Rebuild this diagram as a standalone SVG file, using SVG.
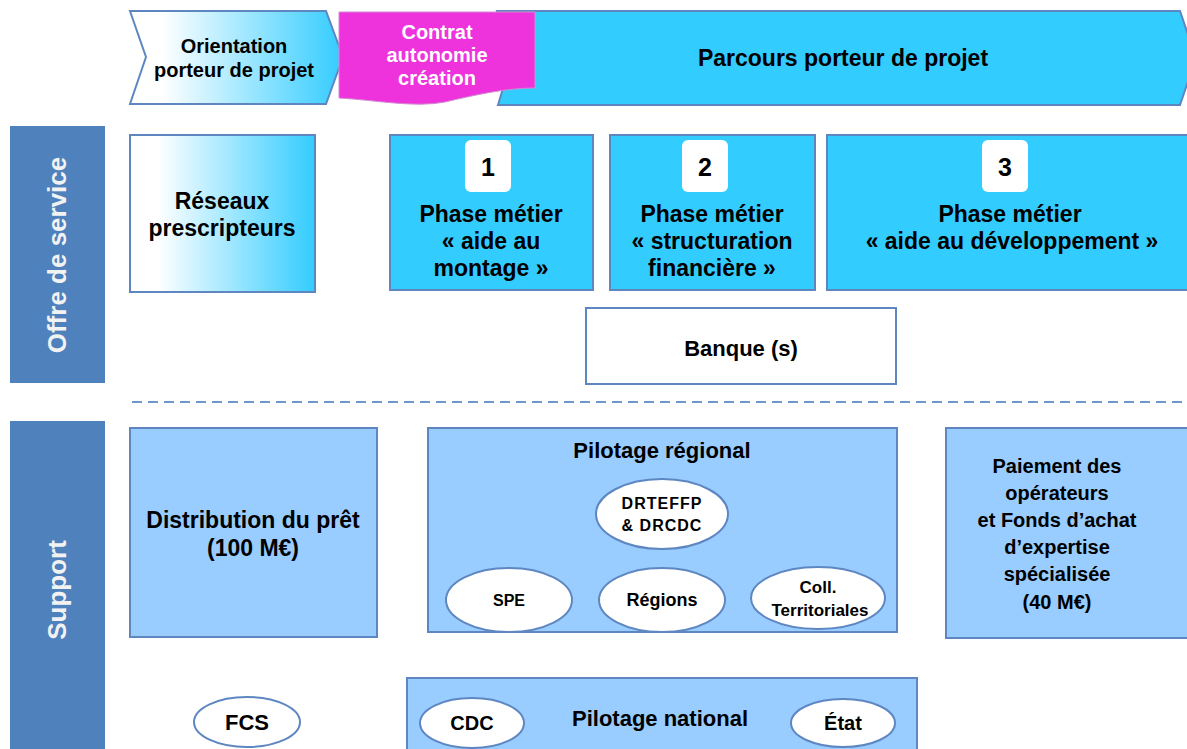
<svg xmlns="http://www.w3.org/2000/svg" width="1187" height="749" viewBox="0 0 1187 749">
<defs>
<linearGradient id="wb" x1="0" y1="0" x2="1" y2="0">
<stop offset="0" stop-color="#FFFFFF"/>
<stop offset="0.15" stop-color="#FFFFFF"/>
<stop offset="1" stop-color="#33CCFF"/>
</linearGradient>
<style>
text{font-family:"Liberation Sans",Arial,sans-serif;font-weight:bold;text-anchor:middle;fill:#000}
.side{fill:#4F81BD}
.sidet{fill:#F2F2F2;font-size:26px}
.box{stroke:#5E87C2;stroke-width:2}
.cyan{fill:#33CCFF}
.lb{fill:#99CCFF}
.wh{fill:#FFFFFF}
.ell{fill:#FFFFFF;stroke:#5E87C2;stroke-width:2}
.num{font-size:25px}
.f20{font-size:20px}.f23{font-size:23px}.f22{font-size:22px}.f18{font-size:18px}.f17{font-size:17px}.f16{font-size:16px}
</style>
</defs>
<rect width="1187" height="749" fill="#FFFFFF"/>

<g id="orientation">
<polygon class="box" fill="url(#wb)" points="130,11 326,11 343,57 326,104 130,104 146,57"/>
<text class="f20" x="234" y="53">Orientation</text>
<text class="f20" x="234" y="77">porteur de projet</text>
</g>
<g id="parcours">
<polygon class="box cyan" points="497,11 1180,11 1196,58 1180,105 498,105 512,58"/>
<text class="f23" x="843" y="66">Parcours porteur de projet</text>
</g>
<g id="contrat">
<path d="M339,12 H535 V88 C505,88 475,95 445,102 C415,108 375,100 339,98 Z" fill="#EE33DD" stroke="#D28BD0" stroke-width="1"/>
<text class="f20" x="437" y="39" style="fill:#FFFFFF">Contrat</text>
<text class="f20" x="437" y="62" style="fill:#FFFFFF">autonomie</text>
<text class="f20" x="437" y="85" style="fill:#FFFFFF">création</text>
</g>

<g id="offre-de-service">
<rect class="side" x="10" y="126" width="95" height="257"/>
<text class="sidet" transform="translate(66,255) rotate(-90)">Offre de service</text>
</g>
<g id="support">
<rect class="side" x="10" y="421" width="95" height="330"/>
<text class="sidet" transform="translate(66,590) rotate(-90)">Support</text>
</g>

<g id="reseaux">
<rect class="box" fill="url(#wb)" x="130" y="135" width="185" height="157"/>
<text class="f23" x="222" y="209">Réseaux</text>
<text class="f23" x="222" y="236">prescripteurs</text>
</g>

<g id="phase1">
<rect class="box cyan" x="390" y="135" width="203" height="155"/>
<rect class="wh" x="465" y="140" width="46" height="52" rx="6"/>
<text class="num" x="488" y="176">1</text>
<text class="f23" x="491" y="222">Phase métier</text>
<text class="f23" x="491" y="249">« aide au</text>
<text class="f23" x="491" y="276">montage »</text>
</g>
<g id="phase2">
<rect class="box cyan" x="610" y="135" width="205" height="155"/>
<rect class="wh" x="682" y="140" width="46" height="52" rx="6"/>
<text class="num" x="705" y="176">2</text>
<text class="f23" x="712" y="222">Phase métier</text>
<text class="f23" x="712" y="249">« structuration</text>
<text class="f23" x="712" y="276">financière »</text>
</g>
<g id="phase3">
<rect class="box cyan" x="827" y="135" width="370" height="155"/>
<rect class="wh" x="982" y="140" width="46" height="52" rx="6"/>
<text class="num" x="1005" y="176">3</text>
<text class="f23" x="1010" y="222">Phase métier</text>
<text class="f23" x="1012" y="249">« aide au développement »</text>
</g>

<g id="banque">
<rect class="box wh" x="586" y="308" width="310" height="76"/>
<text class="f22" x="741" y="356">Banque (s)</text>
</g>

<g id="connectors">
<line x1="132" y1="402" x2="1187" y2="402" stroke="#7097CC" stroke-width="2" stroke-dasharray="10,6"/>
</g>

<g id="distribution">
<rect class="box lb" x="130" y="428" width="247" height="209"/>
<text class="f23" x="253" y="528">Distribution du prêt</text>
<text class="f23" x="253" y="556">(100 M€)</text>
</g>

<g id="pilotage-regional">
<rect class="box lb" x="428" y="428" width="469" height="204"/>
<text class="f22" x="662" y="458">Pilotage régional</text>
</g>
<g id="drteffp">
<ellipse class="ell" cx="662" cy="514" rx="66" ry="35"/>
<text class="f16" x="662" y="509" style="letter-spacing:1px">DRTEFFP</text>
<text class="f16" x="662" y="531" style="letter-spacing:1px">&amp; DRCDC</text>
</g>
<g id="spe">
<ellipse class="ell" cx="509" cy="600" rx="63" ry="32"/>
<text class="f16" x="509" y="606">SPE</text>
</g>
<g id="regions">
<ellipse class="ell" cx="662" cy="600" rx="63" ry="32"/>
<text class="f18" x="662" y="606">Régions</text>
</g>
<g id="coll">
<ellipse class="ell" cx="818" cy="598" rx="67" ry="31"/>
<text class="f17" x="818" y="593">Coll.</text>
<text class="f17" x="820" y="616">Territoriales</text>
</g>

<g id="paiement">
<rect class="box lb" x="946" y="428" width="250" height="210"/>
<text class="f20" x="1057" y="473">Paiement des</text>
<text class="f20" x="1057" y="500">opérateurs</text>
<text class="f20" x="1057" y="527">et Fonds d’achat</text>
<text class="f20" x="1057" y="554">d’expertise</text>
<text class="f20" x="1057" y="581">spécialisée</text>
<text class="f20" x="1057" y="609">(40 M€)</text>
</g>

<g id="fcs">
<ellipse class="ell" cx="247" cy="722" rx="53" ry="25"/>
<text class="f22" x="247" y="730">FCS</text>
</g>

<g id="pilotage-national">
<rect class="box lb" x="407" y="678" width="510" height="80"/>
<text class="f22" x="660" y="726">Pilotage national</text>
</g>
<g id="cdc">
<ellipse class="ell" cx="472" cy="723" rx="52" ry="25"/>
<text class="f20" x="472" y="730">CDC</text>
</g>
<g id="etat">
<ellipse class="ell" cx="843" cy="723" rx="52" ry="24"/>
<text class="f20" x="843" y="730">État</text>
</g>
</svg>
